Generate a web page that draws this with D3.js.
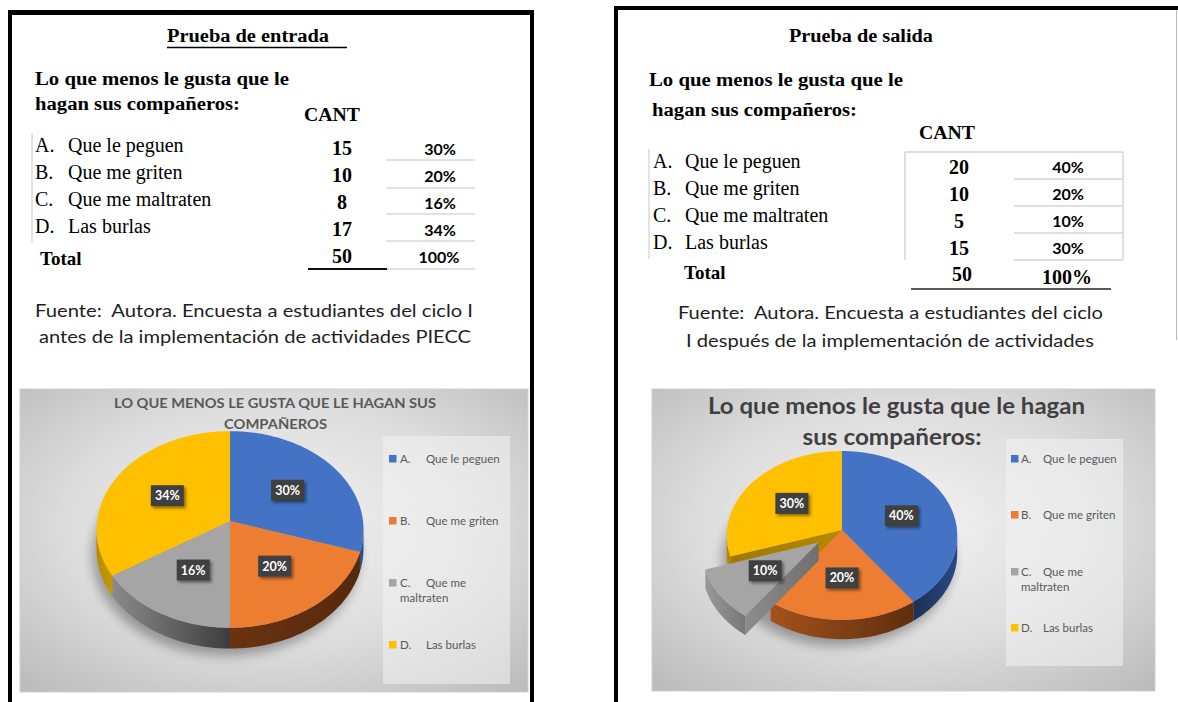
<!DOCTYPE html>
<html><head><meta charset="utf-8">
<script src="https://cdn.jsdelivr.net/npm/d3@7"></script>
<style>body{margin:0;background:#fff}svg{display:block}text{white-space:pre}</style>
</head><body>
<svg id="c" width="1178" height="702"></svg>
<script>
// ---------------- data ----------------
const letters = ["A.", "B.", "C.", "D."];
const categories = ["Que le peguen", "Que me griten", "Que me maltraten", "Las burlas"];
const entradaCounts = [15, 10, 8, 17];
const salidaCounts = [20, 10, 5, 15];
const sliceColors = ["#4472c4", "#ed7d31", "#a5a5a5", "#ffc000"];
const legendLines = [["A.", "Que le peguen"], ["B.", "Que me griten"], ["C.", "Que me", "maltraten"], ["D.", "Las burlas"]];
const entradaHeading = "Prueba de entrada";
const salidaHeading = "Prueba de salida";
const questionLines = ["Lo que menos le gusta que le", "hagan sus compañeros:"];
const entradaChartTitle = ["LO QUE MENOS LE GUSTA QUE LE HAGAN SUS", "COMPAÑEROS"];
const salidaChartTitle = ["Lo que menos le gusta que le hagan", "sus compañeros:"];
const entradaSource = ["Fuente:  Autora. Encuesta a estudiantes del ciclo I", "antes de la implementación de actividades PIECC"];
const salidaSource = ["Fuente:  Autora. Encuesta a estudiantes del ciclo", "I después de la implementación de actividades"];

const SERIF = "'Liberation Serif','Times New Roman',serif";
const SANS = "Lato,'Open Sans',sans-serif";
const pct = d3.format(".0%");

const svg = d3.select("#c");
const defs = svg.append("defs");
defs.append("filter").attr("id", "blur").attr("x", "-30%").attr("y", "-30%").attr("width", "160%").attr("height", "160%")
  .append("feGaussianBlur").attr("stdDeviation", 6);
defs.append("filter").attr("id", "lblShadow").attr("x", "-30%").attr("y", "-30%").attr("width", "170%").attr("height", "170%")
  .append("feDropShadow").attr("dx", 2).attr("dy", 2).attr("stdDeviation", 1.5).attr("flood-color", "#000").attr("flood-opacity", 0.45);
function bgGrad(id) {
  const g = defs.append("radialGradient").attr("id", id).attr("cx", "50%").attr("cy", "45%").attr("r", "75%");
  g.append("stop").attr("offset", "0%").attr("stop-color", "#f3f3f3");
  g.append("stop").attr("offset", "55%").attr("stop-color", "#dcdcdc");
  g.append("stop").attr("offset", "100%").attr("stop-color", "#b9b9b9");
}
bgGrad("bgL"); bgGrad("bgR");

function txt(g, x, y, s, o = {}) {
  const t = g.append("text").attr("x", x).attr("y", y).text(s)
    .attr("font-family", o.family || SERIF).attr("font-size", o.size || 18)
    .attr("font-weight", o.weight || "normal").attr("fill", o.fill || "#000")
    .attr("text-anchor", o.anchor || "start").attr("xml:space", "preserve");
  if (o.len) t.attr("textLength", o.len).attr("lengthAdjust", "spacingAndGlyphs");
  return t;
}
function hline(g, x1, x2, y, c, w) { g.append("line").attr("x1", x1).attr("x2", x2).attr("y1", y).attr("y2", y).attr("stroke", c).attr("stroke-width", w); }
function vline(g, x, y1, y2, c, w) { g.append("line").attr("x1", x).attr("x2", x).attr("y1", y1).attr("y2", y2).attr("stroke", c).attr("stroke-width", w); }

// ---------------- frames ----------------
const fr = svg.append("g");
hline(fr, 8, 534, 12.5, "#000", 5);
vline(fr, 10, 10, 702, "#000", 4);
vline(fr, 532, 10, 702, "#000", 4);
hline(fr, 614, 1178, 8, "#000", 4);
vline(fr, 616, 6, 702, "#000", 4);
vline(fr, 1176.5, 10, 340, "#bbb", 1);

// ---------------- tables ----------------
function table(g, cfg, counts, heading, source) {
  const total = d3.sum(counts);
  txt(g, cfg.headX, 42, heading, { weight: "bold", size: 18, len: cfg.headW });
  if (cfg.headUnderline) hline(g, cfg.headX, cfg.headUnderline, 47.5, "#000", 1.5);
  txt(g, cfg.qX[0], cfg.qY[0], questionLines[0], { weight: "bold", size: 18, len: 254 });
  txt(g, cfg.qX[1], cfg.qY[1], questionLines[1], { weight: "bold", size: 18, len: 205 });
  txt(g, cfg.cantX, cfg.cantY, "CANT", { weight: "bold", size: 19, len: 56 });
  vline(g, cfg.barX, cfg.rowY[0] - 19, cfg.rowY[3] + 10, "#c8c8c8", 1);
  counts.forEach((c, i) => {
    const y = cfg.rowY[i];
    txt(g, cfg.letterX, y, letters[i], { size: 20 });
    txt(g, cfg.textX, y, categories[i], { size: 20 });
    txt(g, cfg.numX, cfg.numY[i], c, { size: 20, weight: "bold", anchor: "middle" });
    txt(g, cfg.pctX, cfg.pctY[i], pct(c / total), { family: SANS, size: 16, weight: "bold", anchor: "middle" });
  });
  txt(g, cfg.totalX, cfg.totalY, "Total", { weight: "bold", size: 19 });
  txt(g, cfg.numX + cfg.totDx, cfg.totalNumY, total, { weight: "bold", size: 20, anchor: "middle" });
  txt(g, cfg.pctX - 1, cfg.totalPctY, pct(d3.sum(counts) / total), cfg.totalPctSerif ?
    { weight: "bold", size: 20, anchor: "middle" } : { family: SANS, size: 16, weight: "bold", anchor: "middle" });
  txt(g, cfg.srcX[0], cfg.srcY[0], source[0], { family: SANS, size: 17, fill: "#1e1e1e", len: cfg.srcW[0] });
  txt(g, cfg.srcX[1], cfg.srcY[1], source[1], { family: SANS, size: 17, fill: "#1e1e1e", len: cfg.srcW[1] });
}

const gL = svg.append("g");
table(gL, {
  headX: 167, headW: 162, headUnderline: 347,
  qX: [35, 35], qY: [85, 110], cantX: 304, cantY: 121, barX: 32,
  rowY: [152, 179, 206, 233], letterX: 35, textX: 68,
  numX: 342, numY: [155, 182, 209, 236], pctX: 440, pctY: [155, 182, 209, 236],
  totalX: 40, totalY: 265, totDx: 0, totalNumY: 263, totalPctY: 263,
  srcX: [35, 39], srcY: [317, 343], srcW: [438, 432]
}, entradaCounts, entradaHeading, entradaSource);
[160, 188, 214, 241, 269].forEach(y => hline(gL, 386, 475, y, "#d9d9d9", 1.5));
hline(gL, 308, 387, 269, "#111", 2.2);

const gR = svg.append("g");
table(gR, {
  headX: 789, headW: 144,
  qX: [649, 652], qY: [86, 116], cantX: 919, cantY: 139, barX: 649,
  rowY: [168, 195, 222, 249], letterX: 653, textX: 685,
  numX: 959, numY: [174, 201, 228, 255], pctX: 1068, pctY: [173, 200, 227, 254],
  totalX: 684, totalY: 279, totDx: 3, totalNumY: 281, totalPctY: 284, totalPctSerif: true,
  srcX: [678, 686], srcY: [319, 347], srcW: [425, 408]
}, salidaCounts, salidaHeading, salidaSource);
hline(gR, 905, 1123, 152, "#d4d4d4", 1.5);
vline(gR, 905, 152, 260, "#d4d4d4", 1.5);
vline(gR, 1123, 152, 260, "#d4d4d4", 1.5);
[179, 206, 233, 260].forEach(y => hline(gR, 1014, 1123, y, "#d4d4d4", 1.5));
hline(gR, 911, 1111, 289, "#5a5a5a", 2);

// ---------------- 3D pie ----------------
function drawPie(g, cfg, values, id) {
  const arcs = d3.pie().sort(null).value(d => d)(values);
  const line = d3.line();
  const P = (th, r, z, off) => {
    const u = r * Math.sin(th) + off[0], v = -r * Math.cos(th) + off[1];
    const w = 1 / (1 - cfg.p * v);
    return [cfg.cx + cfg.rx * u * w, cfg.cy + cfg.ry * v * w + cfg.depth * z * w];
  };
  const arcPts = (a0, a1, z, off) => {
    const n = Math.max(2, Math.ceil(Math.abs(a1 - a0) / 0.02));
    return d3.range(n + 1).map(k => P(a0 + (a1 - a0) * k / n, 1, z, off));
  };
  const offs = arcs.map((a, i) => {
    const e = cfg.explode[i], m = (a.startAngle + a.endAngle) / 2;
    return [e * Math.sin(m), -e * Math.cos(m)];
  });
  // shadow
  g.append("path").attr("d", line(arcPts(0, 2 * Math.PI, 1, [0, 0])) + "Z")
    .attr("transform", "translate(-4,7)").attr("fill", "#000").attr("opacity", 0.32).attr("filter", "url(#blur)");
  const tv0 = Math.acos(-cfg.p), tv1 = 2 * Math.PI - tv0;
  const n = arcs.length;
  const isEx = i => cfg.explode[i] > 0;
  function gradFill(key, pts, cols) {
    const xs = pts.map(p => p[0]);
    const gid = id + key;
    const lg = defs.append("linearGradient").attr("id", gid).attr("gradientUnits", "userSpaceOnUse")
      .attr("x1", d3.min(xs)).attr("x2", d3.max(xs)).attr("y1", 0).attr("y2", 0);
    lg.append("stop").attr("offset", 0).attr("stop-color", cols[0]);
    lg.append("stop").attr("offset", 1).attr("stop-color", cols[1]);
    return `url(#${gid})`;
  }
  function radial(i) {
    const a = arcs[i], off = offs[i];
    const edges = [];
    if (Math.sin(a.startAngle) < -1e-6 && (isEx(i) || isEx((i + n - 1) % n))) edges.push(a.startAngle);
    if (Math.sin(a.endAngle) > 1e-6 && (isEx(i) || isEx((i + 1) % n))) edges.push(a.endAngle);
    edges.forEach((e, k) => {
      const pts = [P(e, 0, 0, off), P(e, 1, 0, off), P(e, 1, 1, off), P(e, 0, 1, off)];
      g.append("path").attr("d", line(pts) + "Z").attr("fill", gradFill("r" + i + k, pts, cfg.wallCols[i]));
    });
  }
  function outer(i) {
    const a = arcs[i], off = offs[i];
    const c0 = Math.max(a.startAngle, tv0), c1 = Math.min(a.endAngle, tv1);
    if (c1 <= c0) return;
    const pts = arcPts(c0, c1, 0, off).concat(arcPts(c0, c1, 1, off).reverse());
    g.append("path").attr("d", line(pts) + "Z").attr("fill", gradFill("o" + i, pts, cfg.sideCols[i]));
  }
  function top(i) {
    const a = arcs[i], off = offs[i];
    const pts = [P(0, 0, 0, off)].concat(arcPts(a.startAngle, a.endAngle, 0, off));
    g.append("path").attr("d", line(pts) + "Z").attr("fill", sliceColors[i]);
  }
  const groups = [d3.range(n).filter(i => !isEx(i)), d3.range(n).filter(isEx)];
  groups.forEach(gr => { gr.forEach(radial); gr.forEach(outer); gr.forEach(top); });
  // data labels
  const total = d3.sum(values);
  arcs.forEach((a, i) => {
    const m = (a.startAngle + a.endAngle) / 2;
    const [x, y] = P(m, 0.55, 0, offs[i]);
    g.append("rect").attr("x", x - 16.5).attr("y", y - 10.5).attr("width", 33).attr("height", 21)
      .attr("fill", "#404040").attr("filter", "url(#lblShadow)");
    txt(g, x, y + 4.5, pct(a.value / total), { family: SANS, size: 12.5, weight: "bold", fill: "#fff", anchor: "middle" });
  });
}

function chart(g, box, titleCfg, pieCfg, values, legCfg, id) {
  g.append("rect").attr("x", box[0]).attr("y", box[1]).attr("width", box[2]).attr("height", box[3])
    .attr("fill", `url(#${id === "L" ? "bgL" : "bgR"})`).attr("stroke", "#d0d0d0").attr("stroke-width", 1);
  g.append("rect").attr("x", legCfg.box[0]).attr("y", legCfg.box[1]).attr("width", legCfg.box[2]).attr("height", legCfg.box[3])
    .attr("fill", "#f2f2f2").attr("opacity", 0.55);
  titleCfg.lines.forEach((s, k) => txt(g, titleCfg.x[k], titleCfg.y[k], s,
    { family: SANS, size: titleCfg.size, weight: "bold", fill: titleCfg.fill, anchor: "middle", len: titleCfg.w[k] }));
  drawPie(g, pieCfg, values, id);
  legendLines.forEach((ln, i) => {
    const y = legCfg.y[i];
    g.append("rect").attr("x", legCfg.sx).attr("y", y - 4).attr("width", 7.5).attr("height", 7.5).attr("fill", sliceColors[i]);
    txt(g, legCfg.lx, y + 4, ln[0], { family: SANS, size: 11.5, fill: "#595959" });
    txt(g, legCfg.tx, y + 4, ln[1], { family: SANS, size: 11.5, fill: "#595959" });
    if (ln[2]) txt(g, legCfg.lx, y + 4 + legCfg.wrap, ln[2], { family: SANS, size: 11.5, fill: "#595959" });
  });
}

chart(svg.append("g"), [20, 389, 508, 303],
  { lines: entradaChartTitle, x: [275, 275.5], y: [408, 429], w: [322, 103], size: 13.5, fill: "#595959" },
  { cx: 230, cy: 521, rx: 133, ry: 97.6, p: 0.086, depth: 19, explode: [0, 0, 0, 0],
    sideCols: [["#2e4f8a", "#2e4f8a"], ["#6a3310", "#55290c"], ["#8a8a8a", "#3d3d3d"], ["#b88a00", "#c79800"]],
    wallCols: [["#2e4f8a", "#2e4f8a"], ["#a0501a", "#a0501a"], ["#7f7f7f", "#7f7f7f"], ["#a88000", "#a88000"]] },
  entradaCounts,
  { box: [383, 436, 127, 248], y: [459, 521, 583, 645], sx: 389, lx: 400, tx: 426, wrap: 15 }, "L");

chart(svg.append("g"), [652, 389, 503, 302],
  { lines: salidaChartTitle, x: [896.5, 892], y: [414, 445], w: [377, 179], size: 22, fill: "#404040" },
  { cx: 842, cy: 530, rx: 115, ry: 84.1, p: 0.065, depth: 18, explode: [0, 0, 0.25, 0],
    sideCols: [["#1c2f55", "#2a4a85"], ["#a4521b", "#5e2e0e"], ["#9a9a9a", "#777777"], ["#b08500", "#b08500"]],
    wallCols: [["#2e4f8a", "#2e4f8a"], ["#a0501a", "#a0501a"], ["#8c8c8c", "#6f6f6f"], ["#a07800", "#b58a00"]] },
  salidaCounts,
  { box: [1006, 439, 117, 227], y: [459, 515, 572, 628], sx: 1011, lx: 1021, tx: 1043, wrap: 15 }, "R");
</script>
</body></html>
